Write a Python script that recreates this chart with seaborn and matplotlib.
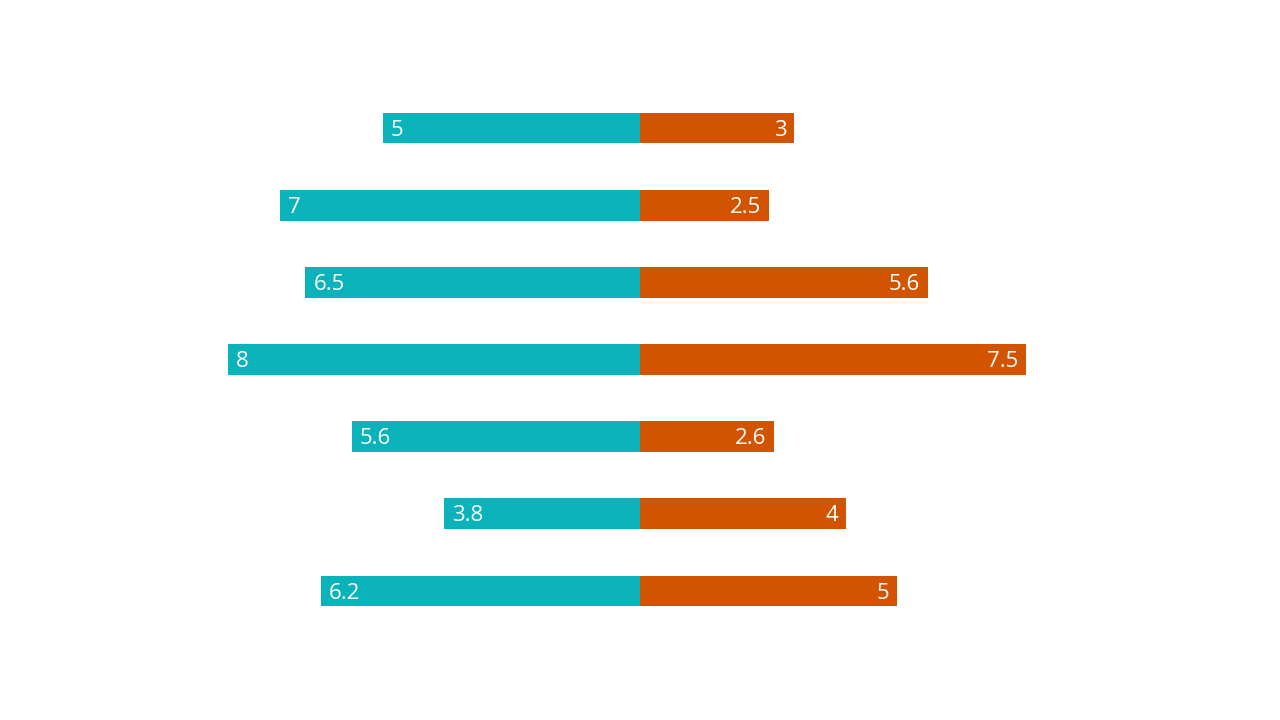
import matplotlib
matplotlib.use("Agg")
import matplotlib.pyplot as plt
import matplotlib.transforms as mtransforms
import seaborn as sns
import pandas as pd

categories = ["A", "B", "C", "D", "E", "F", "G"]
left_values = [5, 7, 6.5, 8, 5.6, 3.8, 6.2]
right_values = [3, 2.5, 5.6, 7.5, 2.6, 4, 5]

teal = "#0AB3BA"
orange = "#D35400"

sns.set_theme(style="white")
plt.rcParams["font.family"] = ["Open Sans", "DejaVu Sans"]

df = pd.DataFrame({
    "cat": categories * 2,
    "value": [-v for v in left_values] + right_values,
    "side": ["left"] * len(categories) + ["right"] * len(categories),
})

fig = plt.figure(figsize=(12.8, 7.2), dpi=100)
ax = fig.add_axes([0, 0, 1, 1])

sns.barplot(data=df, y="cat", x="value", hue="side", order=categories,
            palette={"left": teal, "right": orange}, dodge=False,
            width=0.4, orient="h", legend=False, ax=ax, saturation=1,
            linewidth=0)

ax.set_xlim(-12.43, 12.43)
ax.set_ylim(-1.659 + 9.33, -1.659)
ax.axis("off")

# nudge labels inside the bar ends, a touch lower to sit centred
pad_l = mtransforms.offset_copy(ax.transData, fig=fig, x=8, y=-2, units="dots")
pad_r = mtransforms.offset_copy(ax.transData, fig=fig, x=-8, y=-2, units="dots")
for i, (lv, rv) in enumerate(zip(left_values, right_values)):
    ax.text(-lv, i, f"{lv:g}", transform=pad_l, ha="left", va="center",
            color="white", fontsize=16, fontweight="normal")
    ax.text(rv, i, f"{rv:g}", transform=pad_r, ha="right", va="center",
            color="white", fontsize=16, fontweight="normal")

fig.savefig("out.png", dpi=100, facecolor="white")
